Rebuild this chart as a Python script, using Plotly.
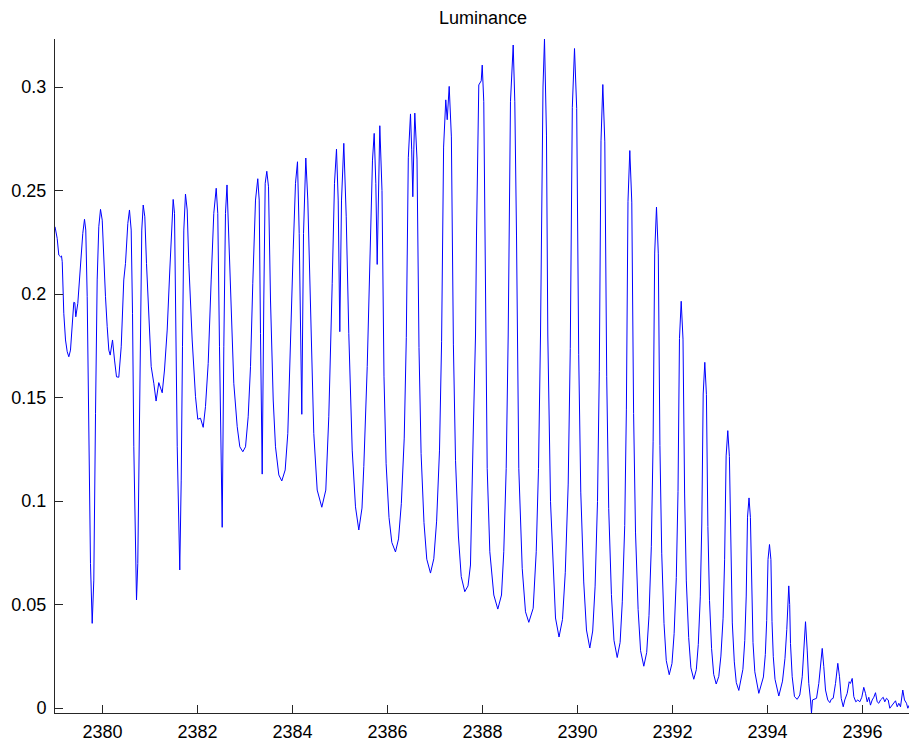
import plotly.graph_objects as go

# Wavelength samples
wavelength = [
    2379.000, 2379.046, 2379.080, 2379.116, 2379.137, 2379.152, 2379.185, 2379.221, 2379.257, 2379.291,
    2379.326, 2379.362, 2379.396, 2379.417, 2379.438, 2379.480, 2379.537, 2379.585, 2379.621, 2379.648,
    2379.678, 2379.712, 2379.747, 2379.783, 2379.817, 2379.853, 2379.888, 2379.922, 2379.958, 2379.994,
    2380.027, 2380.063, 2380.099, 2380.133, 2380.162, 2380.211, 2380.253, 2380.295, 2380.343, 2380.394,
    2380.448, 2380.484, 2380.533, 2380.568, 2380.604, 2380.632, 2380.659, 2380.695, 2380.716, 2380.743,
    2380.773, 2380.800, 2380.827, 2380.857, 2380.891, 2380.926, 2380.975, 2381.025, 2381.080, 2381.128,
    2381.185, 2381.257, 2381.305, 2381.362, 2381.417, 2381.459, 2381.488, 2381.516, 2381.543, 2381.573,
    2381.627, 2381.657, 2381.684, 2381.712, 2381.747, 2381.783, 2381.817, 2381.888, 2381.958, 2382.006,
    2382.063, 2382.120, 2382.168, 2382.225, 2382.288, 2382.343, 2382.394, 2382.427, 2382.463, 2382.520,
    2382.554, 2382.589, 2382.621, 2382.659, 2382.709, 2382.764, 2382.836, 2382.891, 2382.954, 2383.011,
    2383.067, 2383.116, 2383.164, 2383.221, 2383.269, 2383.299, 2383.326, 2383.362, 2383.396, 2383.425,
    2383.459, 2383.495, 2383.537, 2383.594, 2383.642, 2383.712, 2383.775, 2383.846, 2383.901, 2383.958,
    2384.015, 2384.063, 2384.105, 2384.141, 2384.196, 2384.232, 2384.280, 2384.322, 2384.379, 2384.448,
    2384.520, 2384.617, 2384.701, 2384.764, 2384.836, 2384.884, 2384.926, 2384.962, 2384.996, 2385.032,
    2385.080, 2385.131, 2385.185, 2385.257, 2385.326, 2385.396, 2385.463, 2385.501, 2385.573, 2385.642,
    2385.684, 2385.720, 2385.754, 2385.783, 2385.811, 2385.838, 2385.884, 2385.926, 2385.971, 2386.032,
    2386.091, 2386.168, 2386.232, 2386.291, 2386.352, 2386.396, 2386.438, 2386.484, 2386.509, 2386.533,
    2386.554, 2386.575, 2386.621, 2386.663, 2386.707, 2386.768, 2386.827, 2386.905, 2386.975, 2387.034,
    2387.095, 2387.139, 2387.181, 2387.227, 2387.257, 2387.299, 2387.345, 2387.387, 2387.432, 2387.493,
    2387.552, 2387.627, 2387.695, 2387.747, 2387.804, 2387.853, 2387.874, 2387.901, 2387.922, 2387.973,
    2387.994, 2388.027, 2388.063, 2388.099, 2388.154, 2388.238, 2388.322, 2388.400, 2388.448, 2388.499,
    2388.541, 2388.568, 2388.589, 2388.646, 2388.680, 2388.716, 2388.731, 2388.764, 2388.836, 2388.905,
    2388.975, 2389.067, 2389.131, 2389.179, 2389.221, 2389.242, 2389.274, 2389.305, 2389.347, 2389.375,
    2389.432, 2389.537, 2389.611, 2389.684, 2389.743, 2389.804, 2389.848, 2389.891, 2389.937, 2389.983,
    2390.025, 2390.069, 2390.131, 2390.189, 2390.259, 2390.320, 2390.371, 2390.421, 2390.459, 2390.495,
    2390.533, 2390.575, 2390.615, 2390.657, 2390.714, 2390.768, 2390.836, 2390.897, 2390.943, 2390.994,
    2391.029, 2391.063, 2391.101, 2391.143, 2391.181, 2391.221, 2391.276, 2391.328, 2391.396, 2391.457,
    2391.505, 2391.554, 2391.592, 2391.625, 2391.663, 2391.701, 2391.735, 2391.773, 2391.821, 2391.869,
    2391.931, 2391.989, 2392.034, 2392.080, 2392.116, 2392.147, 2392.183, 2392.221, 2392.255, 2392.291,
    2392.341, 2392.387, 2392.448, 2392.501, 2392.543, 2392.585, 2392.617, 2392.646, 2392.680, 2392.714,
    2392.745, 2392.779, 2392.823, 2392.867, 2392.920, 2392.975, 2393.019, 2393.065, 2393.097, 2393.129,
    2393.164, 2393.198, 2393.227, 2393.259, 2393.301, 2393.343, 2393.396, 2393.482, 2393.522, 2393.552,
    2393.579, 2393.611, 2393.640, 2393.665, 2393.695, 2393.733, 2393.817, 2393.914, 2393.954, 2393.983,
    2394.011, 2394.042, 2394.072, 2394.095, 2394.122, 2394.158, 2394.238, 2394.316, 2394.368, 2394.406,
    2394.429, 2394.448, 2394.467, 2394.484, 2394.520, 2394.568, 2394.625, 2394.680, 2394.731, 2394.764,
    2394.800, 2394.836, 2394.869, 2394.905, 2394.926, 2394.947, 2394.989, 2395.032, 2395.080, 2395.116,
    2395.152, 2395.185, 2395.221, 2395.269, 2395.312, 2395.341, 2395.383, 2395.432, 2395.480, 2395.516,
    2395.552, 2395.594, 2395.627, 2395.678, 2395.720, 2395.747, 2395.783, 2395.817, 2395.859, 2395.901,
    2395.943, 2395.985, 2396.027, 2396.063, 2396.099, 2396.133, 2396.168, 2396.204, 2396.238, 2396.274,
    2396.309, 2396.343, 2396.379, 2396.436, 2396.469, 2396.505, 2396.541, 2396.575, 2396.625, 2396.659,
    2396.695, 2396.731, 2396.764, 2396.800, 2396.848, 2396.884, 2396.926, 2396.954, 2396.996,
]

# Luminance values
luminance = [
    0.2325, 0.2269, 0.2188, 0.2180, 0.2184, 0.2156, 0.1907, 0.1778, 0.1721, 0.1697,
    0.1729, 0.1842, 0.1960, 0.1958, 0.1890, 0.1955, 0.2148, 0.2293, 0.2361, 0.2309,
    0.1987, 0.1262, 0.0699, 0.0409, 0.0618, 0.1424, 0.2068, 0.2325, 0.2409, 0.2357,
    0.2148, 0.1987, 0.1842, 0.1729, 0.1705, 0.1778, 0.1681, 0.1600, 0.1598, 0.1745,
    0.2068, 0.2148, 0.2341, 0.2406, 0.2309, 0.1907, 0.1262, 0.0699, 0.0522, 0.0699,
    0.1262, 0.1907, 0.2309, 0.2430, 0.2373, 0.2148, 0.1858, 0.1649, 0.1569, 0.1483,
    0.1572, 0.1523, 0.1633, 0.1826, 0.2116, 0.2373, 0.2457, 0.2390, 0.1907, 0.1262,
    0.0667, 0.1101, 0.1745, 0.2309, 0.2483, 0.2406, 0.2148, 0.1778, 0.1504, 0.1395,
    0.1400, 0.1356, 0.1456, 0.1665, 0.2068, 0.2390, 0.2511, 0.2390, 0.1745, 0.0873,
    0.1745, 0.2390, 0.2527, 0.2293, 0.1890, 0.1569, 0.1359, 0.1262, 0.1238, 0.1262,
    0.1407, 0.1649, 0.2052, 0.2454, 0.2557, 0.2454, 0.1810, 0.1130, 0.1971, 0.2535,
    0.2593, 0.2518, 0.1971, 0.1488, 0.1262, 0.1126, 0.1097, 0.1150, 0.1327, 0.1810,
    0.2213, 0.2535, 0.2639, 0.2293, 0.1419, 0.2293, 0.2657, 0.2454, 0.1890, 0.1327,
    0.1053, 0.0970, 0.1053, 0.1407, 0.2052, 0.2535, 0.2700, 0.2454, 0.1818, 0.2454,
    0.2728, 0.2373, 0.1810, 0.1246, 0.0972, 0.0860, 0.0966, 0.1166, 0.1649, 0.2293,
    0.2647, 0.2776, 0.2535, 0.2143, 0.2535, 0.2813, 0.2500, 0.1600, 0.1180, 0.0920,
    0.0800, 0.0754, 0.0817, 0.0987, 0.1304, 0.1791, 0.2658, 0.2870, 0.2700, 0.2470,
    0.2700, 0.2874, 0.2652, 0.1741, 0.1230, 0.0896, 0.0719, 0.0652, 0.0721, 0.0903,
    0.1246, 0.1772, 0.2710, 0.2938, 0.2842, 0.3003, 0.2759, 0.1758, 0.1197, 0.0831,
    0.0635, 0.0562, 0.0590, 0.0691, 0.1319, 0.1802, 0.2285, 0.2768, 0.3010, 0.3030,
    0.3106, 0.2929, 0.1802, 0.1158, 0.0755, 0.0546, 0.0478, 0.0546, 0.0755, 0.1158,
    0.1802, 0.2285, 0.2929, 0.3203, 0.2929, 0.2285, 0.1802, 0.1158, 0.0675, 0.0465,
    0.0414, 0.0482, 0.0755, 0.1158, 0.1802, 0.2446, 0.3000, 0.3232, 0.2768, 0.1802,
    0.0997, 0.0435, 0.0343, 0.0428, 0.0656, 0.1082, 0.1736, 0.2902, 0.3186, 0.2896,
    0.1709, 0.1043, 0.0609, 0.0377, 0.0290, 0.0372, 0.0589, 0.0998, 0.1624, 0.2740,
    0.3012, 0.2735, 0.1600, 0.0964, 0.0548, 0.0327, 0.0244, 0.0317, 0.0513, 0.0881,
    0.1444, 0.2448, 0.2693, 0.2444, 0.1423, 0.0850, 0.0476, 0.0277, 0.0202, 0.0269,
    0.0446, 0.0779, 0.1289, 0.2198, 0.2420, 0.2194, 0.1268, 0.0748, 0.0409, 0.0229,
    0.0161, 0.0215, 0.0359, 0.0630, 0.1045, 0.1785, 0.1965, 0.1782, 0.1034, 0.0614,
    0.0340, 0.0194, 0.0139, 0.0185, 0.0307, 0.0537, 0.0889, 0.1517, 0.1670, 0.1515,
    0.0877, 0.0520, 0.0287, 0.0163, 0.0116, 0.0153, 0.0251, 0.0434, 0.0716, 0.1218,
    0.1340, 0.1215, 0.0700, 0.0411, 0.0223, 0.0123, 0.0085, 0.0187, 0.0327, 0.0541,
    0.0922, 0.1015, 0.0921, 0.0534, 0.0316, 0.0175, 0.0071, 0.0150, 0.0258, 0.0423,
    0.0718, 0.0790, 0.0717, 0.0417, 0.0248, 0.0139, 0.0058, 0.0130, 0.0240, 0.0380,
    0.0520, 0.0590, 0.0500, 0.0312, 0.0151, 0.0055, 0.0042, 0.0063, 0.0151, 0.0280,
    0.0417, 0.0280, 0.0119, 0.0039, -0.0024, 0.0039, 0.0042, 0.0047, 0.0119, 0.0216,
    0.0288, 0.0200, 0.0087, 0.0039, 0.0026, 0.0042, 0.0047, 0.0119, 0.0216, 0.0151,
    0.0047, 0.0006, 0.0039, 0.0071, 0.0127, 0.0119, 0.0143, 0.0055, 0.0030, 0.0039,
    0.0030, 0.0052, 0.0100, 0.0071, 0.0030, 0.0052, 0.0014, 0.0039, 0.0052, 0.0074,
    0.0030, 0.0023, 0.0039, 0.0052, 0.0030, 0.0047, 0.0039, -0.0001, 0.0014, 0.0030,
    0.0035, 0.0006, 0.0023, 0.0006, 0.0087, 0.0039, 0.0023, -0.0001, 0.0019,
]

title_text = "Luminance"
x_range = [2379, 2397]
y_range = [-0.0024, 0.3232]

axis_color = "#262626"
font_family = "Liberation Sans, Arial, Helvetica, sans-serif"

fig = go.Figure()
fig.add_trace(go.Scatter(
    x=wavelength, y=luminance, mode="lines",
    line=dict(color="#0000ff", width=1),
    hoverinfo="skip", showlegend=False,
))

# The page body adds an 8 px margin, so the figure is 8 px smaller on each axis
fig.update_layout(
    width=909, height=734,
    margin=dict(l=47, r=7, t=31, b=29, pad=0, autoexpand=False),
    paper_bgcolor="white", plot_bgcolor="white",
    font=dict(family=font_family, size=18, color="#000000"),
    title=dict(text=title_text, x=475 / 909, xanchor="center", xref="container",
               y=1 - 10 / 734, yanchor="middle", yref="container",
               pad=dict(t=0, b=0, l=0, r=0),
               font=dict(size=18, color="#000000")),
    showlegend=False,
)
fig.update_xaxes(
    range=x_range, tick0=2380, dtick=2, ticks="inside", ticklen=8, tickwidth=1,
    tickcolor=axis_color, showline=True, linecolor=axis_color, linewidth=1,
    showgrid=False, zeroline=False, ticklabelstandoff=2, automargin=False,
    tickfont=dict(size=18, color="#000000"),
)
fig.update_yaxes(
    range=y_range, tick0=0, dtick=0.05, ticks="inside", ticklen=8, tickwidth=1,
    tickcolor=axis_color, showline=True, linecolor=axis_color, linewidth=1,
    showgrid=False, zeroline=False, ticklabelstandoff=4, automargin=False,
    tickfont=dict(size=18, color="#000000"),
)

fig.write_html("out.html")
